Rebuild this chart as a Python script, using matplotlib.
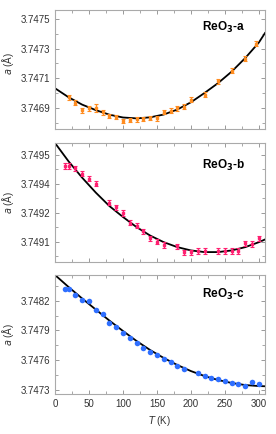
#!/usr/bin/env python3

import numpy as np
import matplotlib
matplotlib.use("Agg")
import matplotlib.pyplot as plt
from matplotlib.ticker import MultipleLocator, FixedLocator, FormatStrFormatter

plt.rcParams['font.family'] = ['Liberation Sans', 'DejaVu Sans']

# ReO3-a : orange, with error bars
T_a = [20, 30, 40, 50, 60, 70, 80, 90, 100, 110, 120, 130, 140, 150,
       160, 170, 180, 190, 200, 220, 240, 260, 280, 296]
a_a = [3.746970, 3.746934, 3.746882, 3.746896, 3.746898, 3.746869, 3.746844,
       3.746837, 3.746812, 3.746817, 3.746821, 3.746825, 3.746830, 3.746828,
       3.746871, 3.746879, 3.746895, 3.746908, 3.746955, 3.746987, 3.747078,
       3.747149, 3.747232, 3.747334]
err_a = [0.000018, 0.000016, 0.000018, 0.000018, 0.000026, 0.000016, 0.000015,
         0.000014, 0.000014, 0.000014, 0.000015, 0.000015, 0.000016, 0.000016,
         0.000016, 0.000016, 0.000016, 0.000017, 0.000018, 0.000017, 0.000018,
         0.000017, 0.000017, 0.000017]
fitT_a = [0, 20, 40, 60, 80, 100, 120, 140, 160, 180, 200, 220, 240, 260, 280, 300, 309]
fit_a = [3.747032, 3.746971, 3.746921, 3.746884, 3.746853, 3.746834, 3.746828,
         3.746835, 3.746854, 3.746888, 3.746937, 3.747000, 3.747067, 3.747145,
         3.747237, 3.747342, 3.747406]

# ReO3-b : pink, with error bars
T_b = [15, 20, 30, 40, 50, 60, 80, 90, 100, 110, 120, 130, 140, 150, 160,
       180, 190, 200, 210, 220, 240, 250, 260, 270, 280, 290, 300]
a_b = [3.749447, 3.749447, 3.749436, 3.749410, 3.749385, 3.749361, 3.749270,
       3.749246, 3.749220, 3.749172, 3.749158, 3.749131, 3.749096, 3.749081,
       3.749065, 3.749058, 3.749029, 3.749029, 3.749035, 3.749035, 3.749035,
       3.749035, 3.749036, 3.749036, 3.749072, 3.749069, 3.749096]
err_b = [0.000013] * len(T_b)
fitT_b = [0, 20, 40, 60, 80, 100, 120, 140, 160, 180, 200, 220, 240, 260, 280, 300, 309]
fit_b = [3.749558, 3.749469, 3.749390, 3.749318, 3.749253, 3.749200, 3.749151,
         3.749110, 3.749078, 3.749054, 3.749038, 3.749030, 3.749030, 3.749038,
         3.749054, 3.749078, 3.749091]

# ReO3-c : blue, dots only
T_c = [15, 20, 30, 40, 50, 60, 70, 80, 90, 100, 110, 120, 130, 140, 150,
       160, 170, 180, 190, 210, 220, 230, 240, 250, 260, 270, 280, 290, 300]
a_c = [3.748315, 3.748315, 3.748259, 3.748210, 3.748199, 3.748106, 3.748071,
       3.747972, 3.747932, 3.747876, 3.747827, 3.747776, 3.747725, 3.747685,
       3.747651, 3.747609, 3.747582, 3.747545, 3.747512, 3.747471, 3.747438,
       3.747421, 3.747408, 3.747388, 3.747371, 3.747363, 3.747343, 3.747378,
       3.747363]
fitT_c = [0, 20, 40, 60, 80, 100, 120, 140, 160, 180, 200, 220, 240, 260, 280, 300, 309]
fit_c = [3.748459, 3.748338, 3.748222, 3.748111, 3.748000, 3.747895, 3.747794,
         3.747703, 3.747623, 3.747552, 3.747491, 3.747441, 3.747401, 3.747371,
         3.747350, 3.747340, 3.747338]

xticks = [0, 50, 100, 150, 200, 250, 300]


def styleAxis(ax, ylim, yticks, yminor):
    ax.set_xlim(0, 309)
    ax.set_ylim(*ylim)
    ax.xaxis.set_major_locator(FixedLocator(xticks))
    ax.xaxis.set_minor_locator(MultipleLocator(25))
    ax.yaxis.set_major_locator(FixedLocator(yticks))
    ax.yaxis.set_minor_locator(FixedLocator(yminor))
    ax.yaxis.set_major_formatter(FormatStrFormatter('%.4f'))
    ax.tick_params(which='both', direction='in', top=True, right=True,
                   color='#999999', labelsize=7, labelcolor='#333333', pad=3.5)
    ax.tick_params(which='major', length=3, width=0.7)
    ax.tick_params(which='minor', length=2, width=0.6)
    for s in ax.spines.values():
        s.set_color('#aaaaaa')
        s.set_linewidth(0.8)
    ax.set_ylabel(r'$a$ ($\mathrm{\AA}$)', fontsize=7, color='#333333')
    ax.yaxis.set_label_coords(-0.185, 0.5)


fig = plt.figure(figsize=(2.76, 4.34), dpi=100)
left, width, height = 55 / 276, 210 / 276, 119 / 434
ax1 = fig.add_axes([left, 1 - 129 / 434, width, height])
ax2 = fig.add_axes([left, 1 - 262 / 434, width, height])
ax3 = fig.add_axes([left, 1 - 394 / 434, width, height])

ax1.plot(fitT_a, fit_a, color='black', lw=1.3, zorder=2)
ax1.errorbar(T_a, a_a, yerr=err_a, fmt='s', ms=2.0, color='#ff8c1f',
             ecolor='#ff8c1f', elinewidth=1.0, capsize=1.3, capthick=0.8, zorder=3)
styleAxis(ax1, (3.746756, 3.747562), [3.7469, 3.7471, 3.7473, 3.7475],
          [3.7468, 3.7470, 3.7472, 3.7474])
ax1.set_xticklabels([])
ax1.text(0.70, 0.85, r'ReO$_\mathbf{3}$-a', transform=ax1.transAxes,
         fontsize=8.5, fontweight='bold', va='center')
ax1.yaxis.set_label_coords(-0.185, 0.55)

ax2.plot(fitT_b, fit_b, color='black', lw=1.3, zorder=2)
ax2.errorbar(T_b, a_b, yerr=err_b, fmt='s', ms=2.0, color='#ff1f70',
             ecolor='#ff1f70', elinewidth=1.0, capsize=1.3, capthick=0.8, zorder=3)
styleAxis(ax2, (3.748982, 3.749558), [3.74908, 3.74922, 3.74936, 3.74950],
          [3.74901, 3.74915, 3.74929, 3.74943])
ax2.set_xticklabels([])
ax2.text(0.70, 0.815, r'ReO$_\mathbf{3}$-b', transform=ax2.transAxes,
         fontsize=8.5, fontweight='bold', va='center')

ax3.plot(fitT_c, fit_c, color='black', lw=1.3, zorder=2)
ax3.plot(T_c, a_c, 'o', ms=4.0, color='#2f6fff', mec='none', zorder=3)
styleAxis(ax3, (3.74726, 3.748459), [3.7473, 3.7476, 3.7479, 3.7482],
          [3.74745, 3.74775, 3.74805, 3.74835])
ax3.text(0.70, 0.84, r'ReO$_\mathbf{3}$-c', transform=ax3.transAxes,
         fontsize=8.5, fontweight='bold', va='center')
ax3.set_xlabel(r'$T$ (K)', fontsize=7, color='#333333', labelpad=4)

plt.savefig("out.png", dpi=100)
